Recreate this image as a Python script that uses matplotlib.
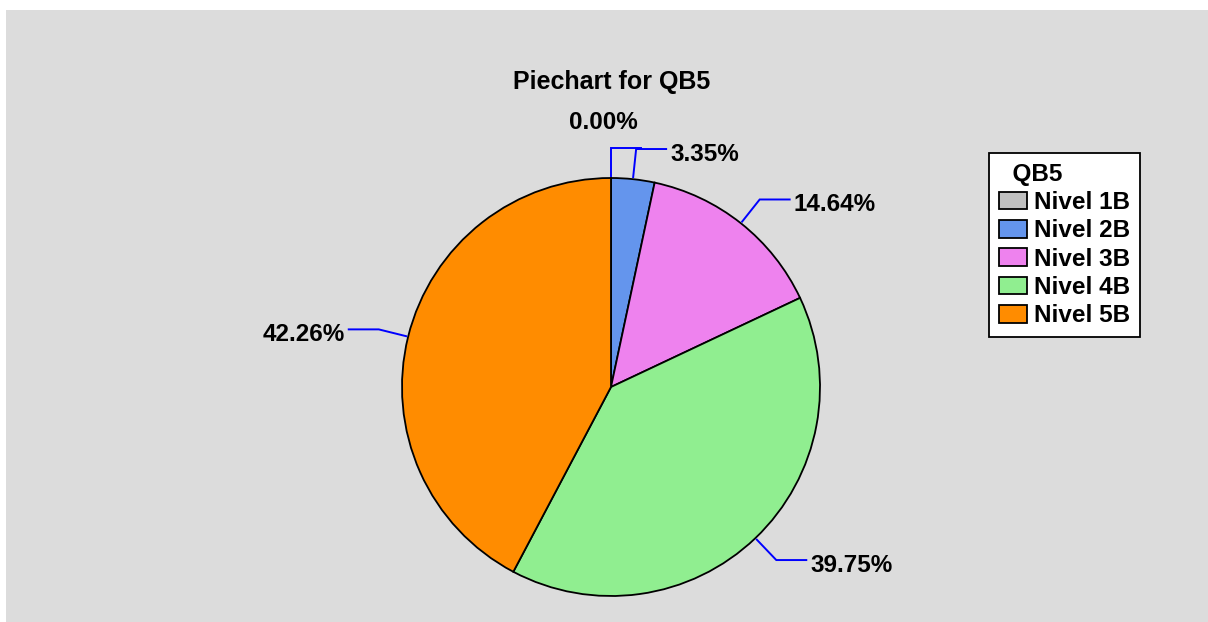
import numpy as np
import matplotlib
matplotlib.use("Agg")
import matplotlib.pyplot as plt
from matplotlib.patches import Rectangle

plt.rcParams["font.family"] = ["Liberation Sans", "DejaVu Sans"]
plt.rcParams["font.weight"] = "bold"

# data
categories = ["Nivel 1B", "Nivel 2B", "Nivel 3B", "Nivel 4B", "Nivel 5B"]
shares = [0.00, 3.35, 14.64, 39.75, 42.26]
colors = ["#C0C0C0", "#6495ED", "#EE82EE", "#90EE90", "#FF8C00"]
title = "Piechart for QB5"
legend_title = "QB5"

W, H = 1208, 622
fig = plt.figure(figsize=(W / 100, H / 100), dpi=100, facecolor="white")

# light grey panel behind the chart
fig.patches.append(Rectangle((6 / W, 0), 1 - 6 / W, 1 - 10 / H,
                             transform=fig.transFigure, facecolor="#DCDCDC",
                             edgecolor="none", zorder=-10))

# pie axes: centre at (611, 387) px, radius 209 px
R_PX = 209
cx, cy = 611, 387
half = 380
L = half / R_PX
ax = fig.add_axes([(cx - half) / W, (H - cy - half) / H, 2 * half / W, 2 * half / H])

wedges, _ = ax.pie(shares, colors=colors, startangle=90, counterclock=False,
                   radius=1.0, wedgeprops=dict(edgecolor="black", linewidth=1.3))
ax.set_xlim(-L, L)
ax.set_ylim(-L, L)
ax.set_aspect("equal")
ax.axis("off")

# leader lines and percentage labels
r0, r1 = 1.01, 1.145
arm = 30 / R_PX
lab_fs = 17.5
for w, v in zip(wedges, shares):
    th = np.deg2rad((w.theta1 + w.theta2) / 2)
    x0, y0 = r0 * np.cos(th), r0 * np.sin(th)
    x1, y1 = r1 * np.cos(th), r1 * np.sin(th)
    side = 1 if np.cos(th) >= -1e-9 else -1
    x2 = x1 + side * arm
    ax.plot([x0, x1, x2], [y0, y1, y1], color="#0000FF", lw=1.4,
            solid_joinstyle="miter", clip_on=False)
    txt = f"{v:.2f}%"
    if v == 0:
        # an empty slice shares its spot with its neighbour, so lift the label
        ax.text(x1 - 8 / R_PX, y1 + 25 / R_PX, txt, ha="center", va="center",
                fontsize=lab_fs, fontweight="bold", clip_on=False)
    else:
        ax.text(x2 + side * 4 / R_PX, y1 - 5 / R_PX, txt,
                ha="left" if side > 0 else "right", va="center",
                fontsize=lab_fs, fontweight="bold", clip_on=False)

fig.text(612 / W, 1 - 82 / H, title, ha="center", va="center",
         fontsize=18, fontweight="bold")

leg = fig.legend(wedges, categories, title="  " + legend_title,
                 loc="upper left", bbox_to_anchor=(989 / W, 1 - 153 / H),
                 frameon=True, fancybox=False, shadow=False,
                 prop=dict(size=17.5, weight="bold"),
                 title_fontproperties=dict(size=17.5, weight="bold"),
                 handlelength=1.15, handleheight=0.74, handletextpad=0.29,
                 labelspacing=0.22, borderpad=0.4, borderaxespad=0,
                 alignment="left")
leg.get_frame().set_edgecolor("black")
leg.get_frame().set_linewidth(1.3)
leg.get_frame().set_facecolor("white")
leg.get_frame().set_alpha(1)

fig.savefig("out.png", dpi=100, facecolor="white")
